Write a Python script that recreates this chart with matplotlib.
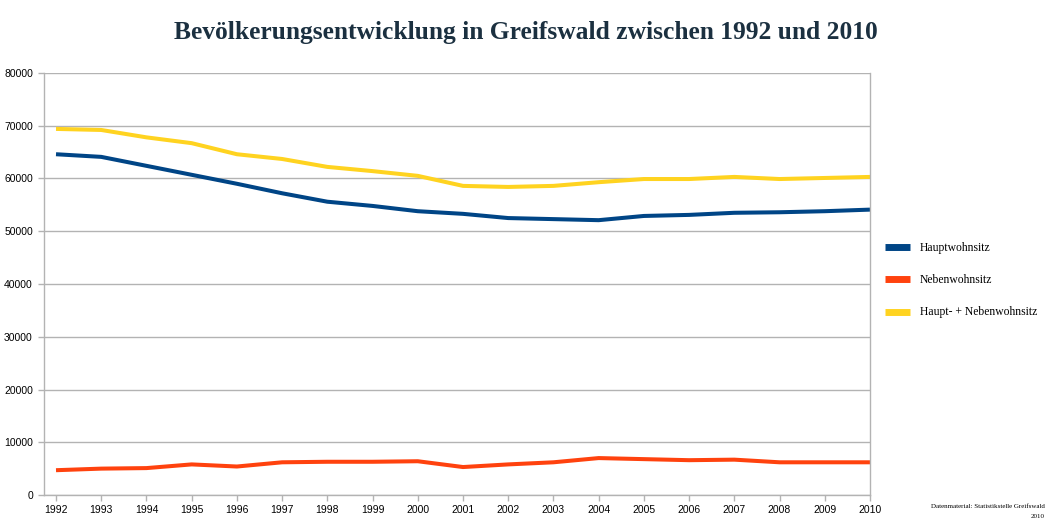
import matplotlib
matplotlib.use("Agg")
import matplotlib.pyplot as plt

years = list(range(1992, 2011))
haupt = [64600, 64100, 62400, 60700, 59000, 57200, 55600, 54800, 53800, 53300,
         52500, 52300, 52100, 52900, 53100, 53500, 53600, 53800, 54100]
neben = [4700, 5000, 5100, 5800, 5400, 6200, 6300, 6300, 6400, 5300,
         5800, 6200, 7000, 6800, 6600, 6700, 6200, 6200, 6200]
gesamt = [69400, 69200, 67800, 66700, 64600, 63700, 62200, 61400, 60500, 58600,
          58400, 58600, 59300, 59900, 59900, 60300, 59900, 60100, 60300]
labels = ["Hauptwohnsitz", "Nebenwohnsitz", "Haupt- + Nebenwohnsitz"]
colors = ["#004586", "#ff420e", "#ffd320"]
yticks = list(range(0, 80001, 10000))

fig = plt.figure(figsize=(10.5, 5.25), dpi=100)
ax = fig.add_axes([44/1050, 30/525, (870-44)/1050, (495-73)/525])

handles = []
for series, lab, col in zip([haupt, neben, gesamt], labels, colors):
    h, = ax.plot(years, series, color=col, lw=2.9, label=lab, solid_capstyle="butt")
    handles.append(h)

ax.set_xlim(1992 - 12/45.2, 2010)
ax.set_ylim(0, 80000)
ax.set_xticks(years)
ax.set_xticklabels([str(y) for y in years])
ax.set_yticks(yticks)
ax.set_yticklabels([str(v) for v in yticks])
ax.grid(axis="y", color="#b3b3b3", lw=1.0)
ax.set_axisbelow(True)
ax.spines["top"].set_visible(False)
for s in ["left", "right", "bottom"]:
    ax.spines[s].set_color("#b3b3b3")
    ax.spines[s].set_linewidth(1.0)
ax.tick_params(axis="both", colors="#b3b3b3", labelcolor="black", labelsize=7.5,
               length=4, width=1.0, direction="out")
ax.tick_params(axis="y", pad=4)
for lbl in ax.get_xticklabels() + ax.get_yticklabels():
    lbl.set_fontfamily("Liberation Sans")

fig.text(526/1050, 1 - 32/525, "Bevölkerungsentwicklung in Greifswald zwischen 1992 und 2010",
         ha="center", va="center", fontsize=18.4, fontweight="bold",
         family="Liberation Serif", color="#1b3040")

leg = fig.legend(handles=handles, labels=labels, loc="center left",
                 bbox_to_anchor=(874/1050, 1 - 280/525), frameon=False,
                 prop={"family": "Liberation Serif", "size": 8.4},
                 handlelength=2.2, handleheight=0.6, labelspacing=1.75,
                 handletextpad=0.8)
for lh in leg.get_lines():
    lh.set_linewidth(5)

fig.text(1045/1050, 1 - 506/525, "Datenmaterial: Statistikstelle Greifswald",
         ha="right", va="center", fontsize=5, family="Liberation Serif")
fig.text(1045/1050, 1 - 517/525, "2010",
         ha="right", va="center", fontsize=5, family="Liberation Serif")

fig.savefig("out.png", dpi=100)
